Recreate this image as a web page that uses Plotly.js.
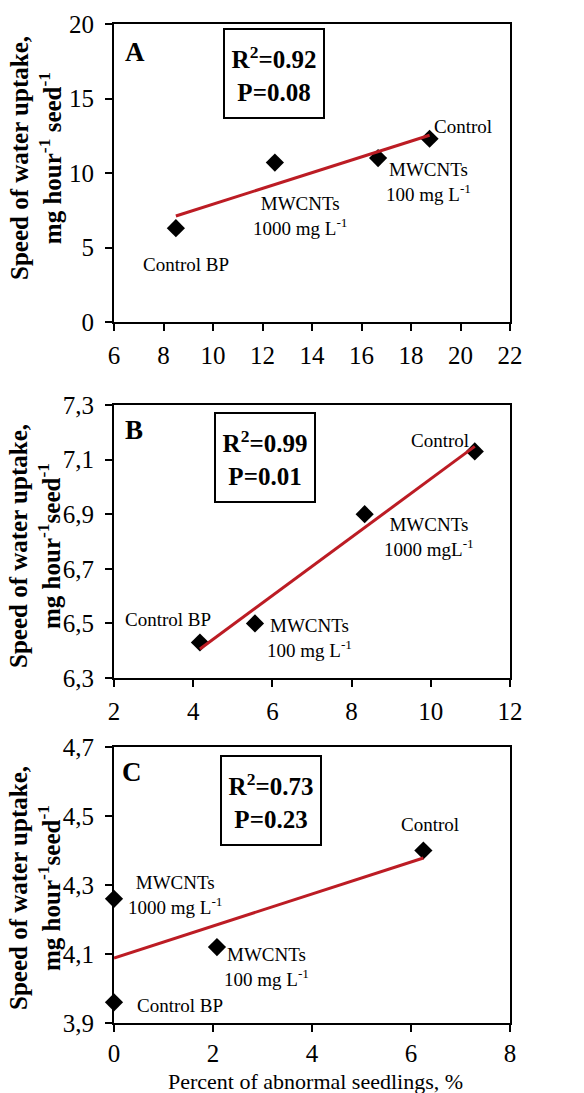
<!DOCTYPE html>
<html>
<head>
<meta charset="utf-8">
<script src="https://cdn.plot.ly/plotly-3.0.1.min.js"></script>
<style>html,body{margin:0;padding:0;background:#fff;}#chart{width:584px;height:1093px;}</style>
</head>
<body>
<div id="chart"></div>
<script>
// ---------- data ----------
const pointNames = ["Control BP", "MWCNTs 1000 mg L-1", "MWCNTs 100 mg L-1", "Control"];

// Panel A
const xA = [8.5, 12.5, 16.67, 18.75];
const yA = [6.3, 10.7, 11.0, 12.3];
const statsA = {r2: "0.92", p: "0.08"};

// Panel B (order: Control BP, MWCNTs 1000, MWCNTs 100, Control)
const xB = [4.17, 8.33, 5.56, 11.11];
const yB = [6.43, 6.90, 6.50, 7.13];
const statsB = {r2: "0.99", p: "0.01"};

// Panel C
const xC = [0, 0, 2.08, 6.25];
const yC = [3.96, 4.26, 4.12, 4.40];
const statsC = {r2: "0.73", p: "0.23"};

const xTicksA = [6, 8, 10, 12, 14, 16, 18, 20, 22];
const yTicksA = [0, 5, 10, 15, 20];
const xTicksB = [2, 4, 6, 8, 10, 12];
const yTicksB = [6.3, 6.5, 6.7, 6.9, 7.1, 7.3];
const xTicksC = [0, 2, 4, 6, 8];
const yTicksC = [3.9, 4.1, 4.3, 4.5, 4.7];

// ---------- helpers ----------
function fit(x, y) {
  const n = x.length;
  const mx = x.reduce((a, b) => a + b, 0) / n;
  const my = y.reduce((a, b) => a + b, 0) / n;
  let sxy = 0, sxx = 0;
  for (let i = 0; i < n; i++) { sxy += (x[i] - mx) * (y[i] - my); sxx += (x[i] - mx) ** 2; }
  const b = sxy / sxx, a = my - b * mx;
  const x0 = Math.min(...x), x1 = Math.max(...x);
  return {x: [x0, x1], y: [a + b * x0, a + b * x1]};
}

const L = 114, R = 74, T = 24, B = 70, W = 584, H = 1093;
const PW = W - L - R, PH = H - T - B;
const px = v => (v - L) / PW;
const py = v => (H - B - v) / PH;

const FONT = "Liberation Serif";
const RED = "#BC1C24";

const traces = [];
function addPanel(xs, ys, suffix) {
  const ax = suffix === 1 ? "" : String(suffix);
  traces.push({
    x: xs, y: ys, xaxis: "x" + ax, yaxis: "y" + ax,
    type: "scatter", mode: "markers",
    marker: {symbol: "diamond", size: 14, color: "#000"},
    cliponaxis: false, showlegend: false, hoverinfo: "x+y"
  });
  const f = fit(xs, ys);
  traces.push({
    x: f.x, y: f.y, xaxis: "x" + ax, yaxis: "y" + ax,
    type: "scatter", mode: "lines",
    line: {color: RED, width: 3}, showlegend: false, hoverinfo: "skip"
  });
}
addPanel(xA, yA, 1);
addPanel(xB, yB, 2);
addPanel(xC, yC, 3);

function axisX(range, ticks, domainAnchor, standoff) {
  return {
    range: range, tickvals: ticks, anchor: domainAnchor, domain: [0, 1],
    showline: true, linecolor: "#000", linewidth: 2, mirror: true,
    ticks: "outside", ticklen: 7, tickwidth: 2, tickcolor: "#000",
    showgrid: false, zeroline: false, ticklabelstandoff: standoff,
    tickfont: {family: FONT, size: 25, color: "#000"}, fixedrange: true
  };
}
function axisY(range, ticks, domain, anchor, fmt) {
  return {
    range: range, tickvals: ticks, domain: domain, anchor: anchor,
    tickformat: fmt,
    showline: true, linecolor: "#000", linewidth: 2, mirror: true,
    ticks: "outside", ticklen: 7, tickwidth: 2, tickcolor: "#000",
    showgrid: false, zeroline: false, ticklabelstandoff: 6,
    tickfont: {family: FONT, size: 25, color: "#000"}, fixedrange: true
  };
}

const annotations = [];
function lab(text, xv, yv, ax, xs, ys) {
  annotations.push({
    text: text, x: xv, y: yv, xref: "x" + ax, yref: "y" + ax,
    xshift: xs, yshift: ys, showarrow: false, align: "center",
    xanchor: "center", yanchor: "middle",
    font: {family: FONT, size: 19, color: "#000"}
  });
}
function paperText(text, cx, cy, size, opts) {
  annotations.push(Object.assign({
    text: text, x: px(cx), y: py(cy), xref: "paper", yref: "paper",
    showarrow: false, xanchor: "center", yanchor: "middle",
    font: {family: FONT, size: size, color: "#000"}
  }, opts || {}));
}
function statsBox(s, cx, cy) {
  paperText("<b>R<sup>2</sup>=" + s.r2 + "</b><br><b>P=" + s.p + "</b>", cx, cy, 25,
    {bordercolor: "#000", borderwidth: 2, borderpad: 0, width: 98, height: 87, bgcolor: "#fff"});
}

// Panel A labels
lab("Control BP", xA[0], yA[0], "", 10, -36);
lab("MWCNTs<br>1000 mg L<sup>-1</sup>", xA[1], yA[1], "", 25, -53);
lab("MWCNTs<br>100 mg L<sup>-1</sup>", xA[2], yA[2], "", 50, -24);
lab("Control", xA[3], yA[3], "", 33, 12);
// Panel B labels
lab("Control BP", xB[0], yB[0], "2", -32, 23);
lab("MWCNTs<br>1000 mgL<sup>-1</sup>", xB[1], yB[1], "2", 64, -23);
lab("MWCNTs<br>100 mg L<sup>-1</sup>", xB[2], yB[2], "2", 55, -15);
lab("Control", xB[3], yB[3], "2", -35, 11);
// Panel C labels
lab("Control BP", xC[0], yC[0], "3", 66, -3);
lab("MWCNTs<br>1000 mg L<sup>-1</sup>", xC[1], yC[1], "3", 61, 4);
lab("MWCNTs<br>100 mg L<sup>-1</sup>", xC[2], yC[2], "3", 50, -20);
lab("Control", xC[3], yC[3], "3", 7, 26);

// panel letters
paperText("<b>A</b>", 135, 52, 27);
paperText("<b>B</b>", 134, 430, 27);
paperText("<b>C</b>", 132, 772, 27);

// stats boxes
statsBox(statsA, 273.5, 73);
statsBox(statsB, 265, 457);
statsBox(statsC, 271, 800);

// y titles
const yt1 = "<b>Speed of water uptake,</b><br><b>mg hour<sup>-1</sup> seed<sup>-1</sup></b>";
const yt2 = "<b>Speed of water uptake,</b><br><b>mg hour<sup>-1</sup>seed<sup>-1</sup></b>";
paperText(yt1, 36, 158, 25, {textangle: -90});
paperText(yt2, 35, 546, 25, {textangle: -90});
paperText(yt2, 35, 888, 25, {textangle: -90});

// x title
paperText("Percent of abnormal seedlings, %", 315, 1081, 22);

const layout = {
  width: W, height: H,
  margin: {l: L, r: R, t: T, b: B},
  paper_bgcolor: "#fff", plot_bgcolor: "#fff",
  separators: ", ",
  showlegend: false,
  font: {family: FONT, color: "#000"},
  xaxis: axisX([6, 22], xTicksA, "y", 3),
  yaxis: axisY([0, 20], yTicksA, [py(322), 1], "x", "d"),
  xaxis2: axisX([2, 12], xTicksB, "y2", 3),
  yaxis2: axisY([6.3, 7.3], yTicksB, [py(678), py(405)], "x2", ".1f"),
  xaxis3: axisX([0, 8], xTicksC, "y3", 0),
  yaxis3: axisY([3.9, 4.7], yTicksC, [0, py(747)], "x3", ".1f"),
  annotations: annotations
};

Plotly.newPlot("chart", traces, layout, {displayModeBar: false, staticPlot: true});
</script>
</body>
</html>
